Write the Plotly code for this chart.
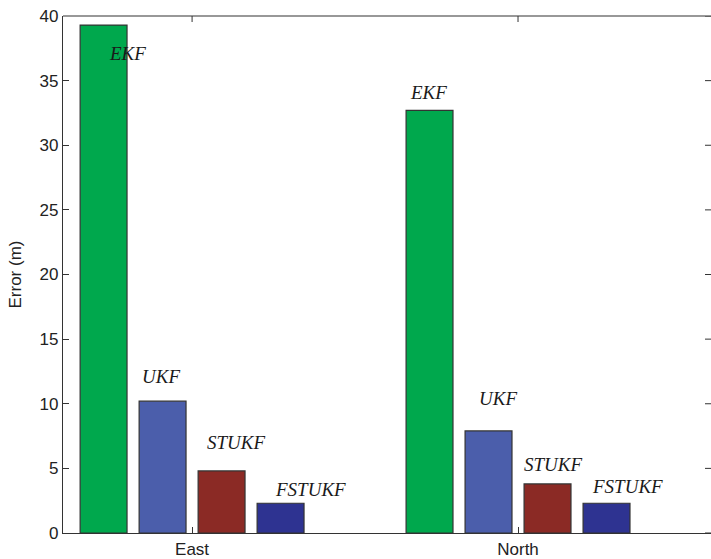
import plotly.graph_objects as go

# Position error per method and direction
groups = ["East", "North"]
methods = ["EKF", "UKF", "STUKF", "FSTUKF"]
ekf = [39.3, 32.7]
ukf = [10.2, 7.9]
stukf = [4.8, 3.8]
fstukf = [2.3, 2.3]
series = [ekf, ukf, stukf, fstukf]
y_ticks = [0, 5, 10, 15, 20, 25, 30, 35, 40]

colors = ["#00a84d", "#4b5eab", "#8b2a25", "#2e3391"]
axis_col = "#333333"

# Label placement (offset from group centre, height in axis units)
label_dx = [[-0.261, -0.337], [-0.160, -0.126], [0.040, 0.012], [0.248, 0.221]]
label_y = [[37.1, 34.1], [12.1, 10.4], [7.0, 5.3], [3.4, 3.6]]

xpos = list(range(1, len(groups) + 1))

fig = go.Figure()
for name, vals, col in zip(methods, series, colors):
    fig.add_trace(go.Bar(
        x=xpos, y=vals, name=name,
        marker=dict(color=col, line=dict(color=axis_col, width=1.2)),
        showlegend=False,
    ))

annotations = []
for m, name in enumerate(methods):
    for g in range(len(groups)):
        annotations.append(dict(
            x=xpos[g] + label_dx[m][g], y=label_y[m][g], xref="x", yref="y",
            text="<i>" + name + "</i>", showarrow=False,
            xanchor="left", yanchor="middle",
            font=dict(family="Liberation Serif", size=19, color="#1a1a1a"),
        ))

# y-axis title, centred about 48 px left of the plotting area
annotations.append(dict(
    x=-48 / 648, y=0.5, xref="paper", yref="paper", xanchor="center", yanchor="middle",
    text="Error (m)", textangle=-90, showarrow=False,
    font=dict(family="Liberation Sans", size=17, color="#222222"),
))

# top border of the box plus inward ticks on the top and right edges
shapes = [dict(type="line", xref="paper", yref="paper", x0=0, x1=1, y0=1, y1=1,
               line=dict(color=axis_col, width=1.2))]
shapes += [
    dict(type="line", xref="paper", yref="y", x0=1 - 6 / 648, x1=1,
         y0=v, y1=v, line=dict(color=axis_col, width=1))
    for v in y_ticks
]
shapes += [
    dict(type="line", xref="x", yref="paper", x0=p, x1=p,
         y0=1, y1=1 - 6 / 517, line=dict(color=axis_col, width=1))
    for p in xpos
]

fig.update_layout(
    width=711, height=559,
    margin=dict(l=63, r=0, t=16, b=26),
    paper_bgcolor="white", plot_bgcolor="white",
    barmode="group", bargap=0.276, bargroupgap=0.205,
    annotations=annotations, shapes=shapes,
    font=dict(family="Liberation Sans", size=17, color="#222222"),
    xaxis=dict(
        range=[0.604, 2.592], tickvals=xpos, ticktext=groups,
        showline=True, linecolor=axis_col, linewidth=1.2, mirror=False,
        ticks="inside", ticklen=6, tickcolor=axis_col, showgrid=False, zeroline=False,
    ),
    yaxis=dict(
        range=[0, 40], tickvals=y_ticks,
        showline=True, linecolor=axis_col, linewidth=1.2,
        ticks="inside", ticklen=6, tickcolor=axis_col, showgrid=False, zeroline=False,
    ),
)

fig.write_html("out.html")
